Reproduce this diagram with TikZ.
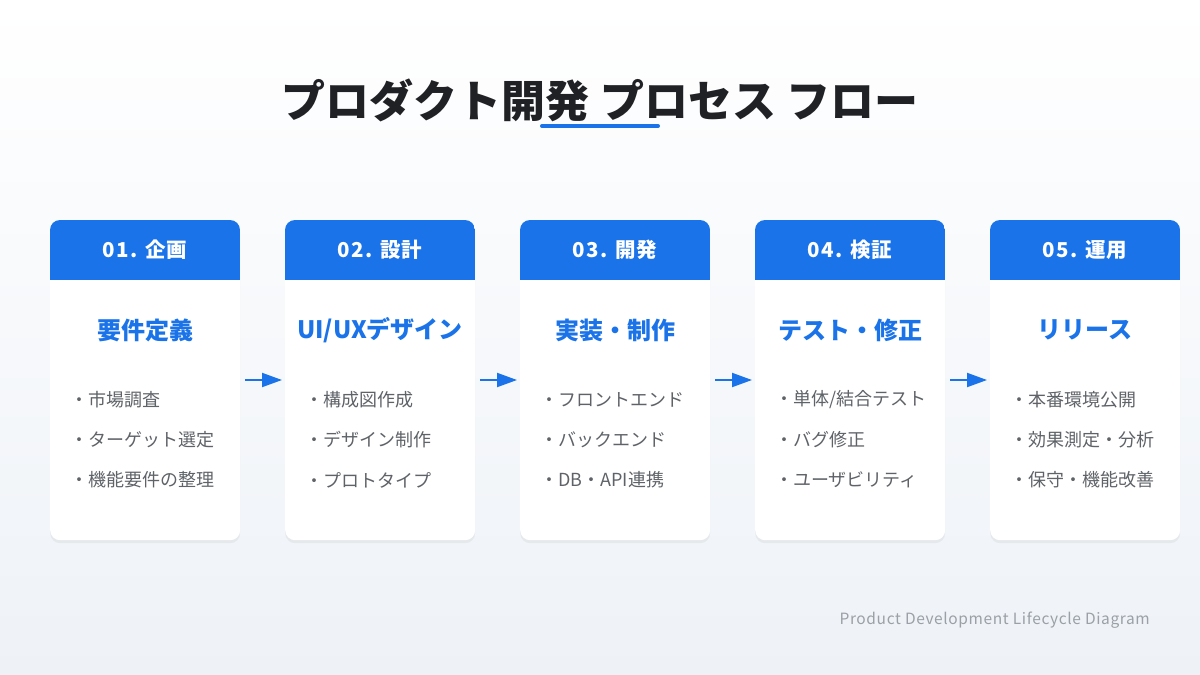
\documentclass[tikz,border=0pt]{standalone}
\usepackage{fontspec}
\setmainfont{Noto Sans CJK JP}
\usetikzlibrary{arrows.meta,shadows,calc}
\definecolor{brand}{HTML}{1A73E8}
\definecolor{titlec}{HTML}{202124}
\definecolor{bodyc}{HTML}{5F6368}
\definecolor{footc}{HTML}{9AA0A6}
\definecolor{bgtop}{HTML}{FFFFFF}
\definecolor{bgbot}{HTML}{EEF2F7}
\tikzset{
  card/.style={draw=none, fill=white, rounded corners=10pt, minimum width=190pt, minimum height=320pt, inner sep=0pt, anchor=north west,
    drop shadow={opacity=0.10, shadow xshift=0pt, shadow yshift=-3pt}},
  headtxt/.style={text=white, font=\fontsize{20.5}{24}\selectfont\bfseries\addfontfeature{LetterSpace=6}, inner sep=0pt},
  subtxt/.style={text=brand, font=\fontsize{24}{28}\selectfont\bfseries, inner sep=0pt},
  itemtxt/.style={text=bodyc, font=\fontsize{18}{21}\selectfont, inner sep=0pt, anchor=west},
  flowarrow/.style={draw=brand, line width=2pt, -{Triangle[length=20pt,width=14pt]}, shorten <=5pt, shorten >=3pt},
}
\newcommand\stagecard[7]{%
  \node[card] (c#1) at (#2,220) {};
  \begin{scope}
    \clip[rounded corners=10pt] (#2,220) rectangle ++(190,320);
    \fill[brand] (#2,220) rectangle ++(190,60);
  \end{scope}
  \node[headtxt] (h#1) at ($(#2,250)+(95,0)$) {#3};
  \node[subtxt] (s#1) at ($(#2,330)+(95,0)$) {#4};
  \node[itemtxt] (ia#1) at ($(#2,400)+(20,0)$) {・#5};
  \node[itemtxt] (ib#1) at ($(#2,440)+(20,0)$) {・#6};
  \node[itemtxt] (ic#1) at ($(#2,480)+(20,0)$) {・#7};
}
\begin{document}
\begin{tikzpicture}[x=1pt,y=-1pt]
\useasboundingbox (0,0) rectangle (1200,675);
\shade[top color=bgtop, bottom color=bgbot] (0,0) rectangle (1200,675);
% title
\node[text=titlec, font=\fontsize{44}{52}\selectfont\bfseries, inner sep=0pt] (title) at (600,100) {プロダクト開発 プロセス フロー};
\coordinate (ul1) at (542,126);
\coordinate (ul2) at (658,126);
\draw[brand, line width=4pt, line cap=round] (ul1) -- (ul2);
% cards
\stagecard{1}{50}{01. 企画}{要件定義}{市場調査}{ターゲット選定}{機能要件の整理}
\stagecard{2}{285}{02. 設計}{UI/UXデザイン}{構成図作成}{デザイン制作}{プロトタイプ}
\stagecard{3}{520}{03. 開発}{実装・制作}{フロントエンド}{バックエンド}{DB・API連携}
\stagecard{4}{755}{04. 検証}{テスト・修正}{単体/結合テスト}{バグ修正}{ユーザビリティ}
\stagecard{5}{990}{05. 運用}{リリース}{本番環境公開}{効果測定・分析}{保守・機能改善}
% arrows
\foreach \p/\q in {1/2,2/3,3/4,4/5}{
  \draw[flowarrow] (c\p.east |- 0,380) -- (c\q.west |- 0,380);
}
% footer
\node[text=footc, font=\fontsize{15.5}{18}\selectfont\addfontfeature{LetterSpace=4}, inner sep=0pt, anchor=east] (foot) at (1150,620) {Product Development Lifecycle Diagram};
\end{tikzpicture}
\end{document}
